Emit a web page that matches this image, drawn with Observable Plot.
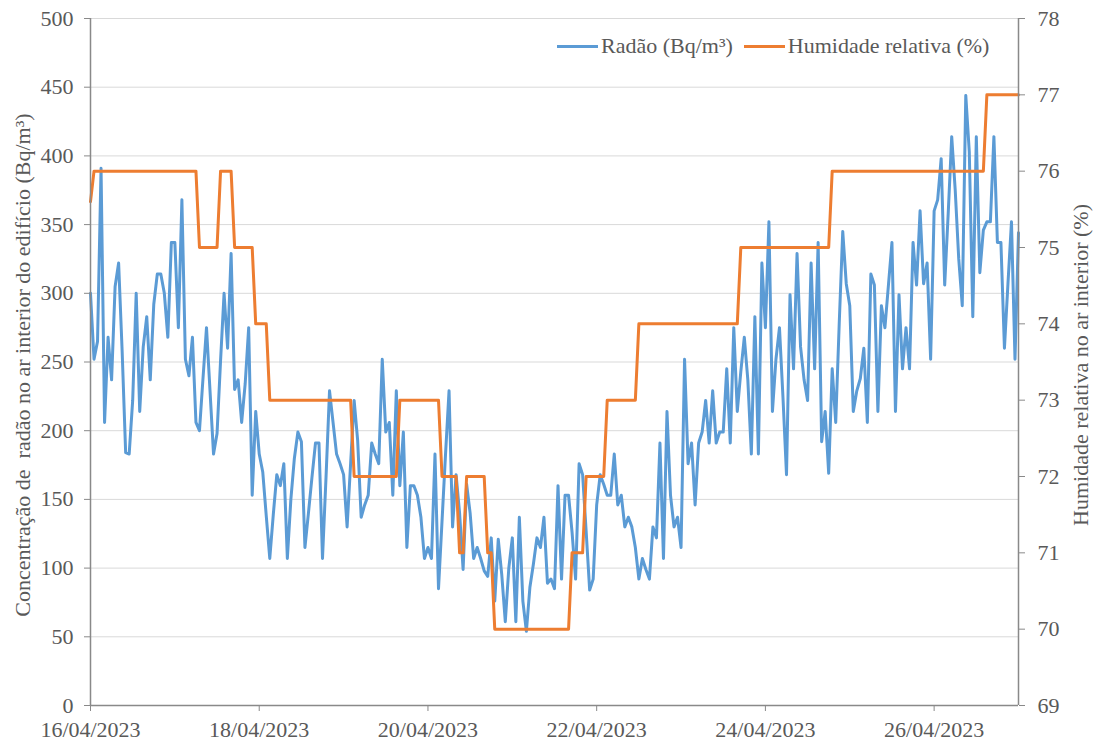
<!DOCTYPE html>
<html><head><meta charset="utf-8">
<script src="https://cdn.jsdelivr.net/npm/d3@7"></script>
<script src="https://cdn.jsdelivr.net/npm/@observablehq/plot@0.6"></script>
<style>
body{margin:0;background:#fff;}
#wrap{position:relative;width:1094px;height:747px;}
.legend{position:absolute;left:557px;top:33px;display:flex;align-items:center;font-family:"Liberation Serif",serif;font-size:22px;color:#595959;white-space:nowrap;line-height:26px}
.sw{display:inline-block;width:41px;height:3px;margin-right:3px}
.item{display:flex;align-items:center;margin-right:11px}
</style></head><body><div id="wrap"></div>
<script>
// Data (hourly, starting 16/04/2023 00:00)
const startDate = "2023-04-16T00:00:00Z";
const radon = [
  300,252,265,391,206,268,237,305,322,258,184,183,222,300,214,261,283,237,292,314,314,300,268,337,
  337,275,368,252,240,268,206,200,238,275,229,183,198,251,300,260,329,230,237,206,234,275,153,214,
  183,170,138,107,139,168,160,176,107,150,180,199,192,115,140,166,191,191,107,166,229,206,183,176,
  168,130,176,222,193,137,146,153,191,183,176,252,199,206,153,229,160,199,115,160,160,153,137,107,
  115,107,183,85,134,183,229,130,168,140,99,161,140,107,115,107,98,94,122,76,121,95,61,100,
  122,61,137,76,54,86,103,122,115,137,89,92,85,160,92,153,153,126,92,176,168,127,84,92,
  146,168,161,153,153,183,146,153,130,137,130,115,92,107,99,92,130,122,191,107,214,153,130,137,
  115,252,176,191,146,191,199,222,191,229,191,199,199,245,191,275,214,243,268,237,183,283,183,322,
  275,352,214,252,275,224,168,299,245,329,261,237,222,322,245,337,192,214,169,245,206,278,345,307,
  291,214,229,238,260,206,314,306,214,291,275,306,337,214,299,245,275,245,337,306,360,307,322,252,
  360,368,398,306,358,414,375,325,291,444,403,283,414,315,346,352,352,414,337,337,260,307,352,252,
  344
];
// Relative humidity: run-length (level, number of hourly readings)
const humidityLevels = [75.6, 76, 75, 76, 75, 74, 73, 72, 73, 72, 71, 72, 71, 70, 71, 72, 73, 74, 75, 76, 77];
const humidityHours  = [1,   30,  6,  4,  6,  4, 24, 13, 12,  5,  2,  6,  2, 22,  4,  6,  9, 29, 26, 44, 10];
const radonTicks = [0, 50, 100, 150, 200, 250, 300, 350, 400, 450, 500];
const humidityTicks = [69, 70, 71, 72, 73, 74, 75, 76, 77, 78];
const dateTickDays = [0, 2, 4, 6, 8, 10];
const seriesNames = ["Radão (Bq/m³)", "Humidade relativa (%)"];
const yTitle = "Concentração de\u00A0 radão no ar interior do edifício (Bq/m³)";
const y2Title = "Humidade relativa no ar interior (%)";

const FONT = "'Liberation Serif', 'Times New Roman', serif";
const HOUR = 3600e3;
const t0 = Date.parse(startDate);
const radonData = radon.map((v, i) => ({date: new Date(t0 + i * HOUR), v}));
const humidity = humidityLevels.flatMap((lv, k) => Array(humidityHours[k]).fill(lv));
const humData = humidity.map((h, i) => ({date: new Date(t0 + i * HOUR), h}));
const hMin = 69, hMax = 78, yMax = 500;
const toY = h => (h - hMin) * yMax / (hMax - hMin);
const xStart = new Date(t0), xEnd = new Date(t0 + (radon.length - 1) * HOUR);
const xTicks = dateTickDays.map(d => new Date(t0 + d * 24 * HOUR));
const fmt = d3.utcFormat("%d/%m/%Y");

const chart = Plot.plot({
  width: 1094, height: 747,
  marginLeft: 90, marginRight: 76, marginTop: 18, marginBottom: 42,
  x: {type: "utc", domain: [xStart, xEnd]},
  y: {domain: [0, 500]},
  style: {fontFamily: FONT, fontSize: "22px", color: "#595959", background: "white"},
  marks: [
    Plot.gridY(radonTicks, {stroke: "#d9d9d9", strokeOpacity: 1, strokeWidth: 1}),
    Plot.line(radonData, {x: "date", y: "v", stroke: "#5b9bd5", strokeWidth: 3, strokeLinejoin: "round"}),
    Plot.line(humData, {x: "date", y: d => toY(d.h), stroke: "#ed7d31", strokeWidth: 3, strokeLinejoin: "round"}),
    Plot.ruleX([xStart, xEnd], {stroke: "#898989", strokeWidth: 1.5}),
    Plot.ruleY([0], {stroke: "#898989", strokeWidth: 1.5}),
    Plot.axisY(radonTicks, {anchor: "left", tickSize: 6, tickPadding: 11, stroke: "#898989", fill: "#595959", label: null, fontFamily: FONT, fontSize: 22}),
    Plot.axisY(humidityTicks.map(toY), {anchor: "right", tickSize: 6, tickPadding: 13, stroke: "#898989", fill: "#595959", label: null, fontFamily: FONT, fontSize: 22,
      tickFormat: d => String(Math.round(hMin + d * (hMax - hMin) / yMax))}),
    Plot.axisX(xTicks, {anchor: "bottom", tickSize: 6, tickPadding: 10, stroke: "#898989", fill: "#595959", label: null, tickFormat: fmt, fontFamily: FONT, fontSize: 22}),
    Plot.text([yTitle], {text: d => d, frameAnchor: "left", textAnchor: "middle", dx: -68, dy: 3, rotate: -90, fill: "#595959", fontSize: 22, fontFamily: FONT}),
    Plot.text([y2Title], {text: d => d, frameAnchor: "right", textAnchor: "middle", dx: 62, dy: 3, rotate: -90, fill: "#595959", fontSize: 22, fontFamily: FONT})
  ]
});
const wrap = document.getElementById("wrap");
wrap.appendChild(chart);
const legend = document.createElement("div");
legend.className = "legend";
const colors = ["#5b9bd5", "#ed7d31"];
seriesNames.forEach((name, i) => {
  const item = document.createElement("div");
  item.className = "item";
  const sw = document.createElement("span");
  sw.className = "sw"; sw.style.background = colors[i];
  const tx = document.createElement("span");
  tx.textContent = name;
  item.appendChild(sw); item.appendChild(tx);
  legend.appendChild(item);
});
wrap.appendChild(legend);
</script>
</body></html>
